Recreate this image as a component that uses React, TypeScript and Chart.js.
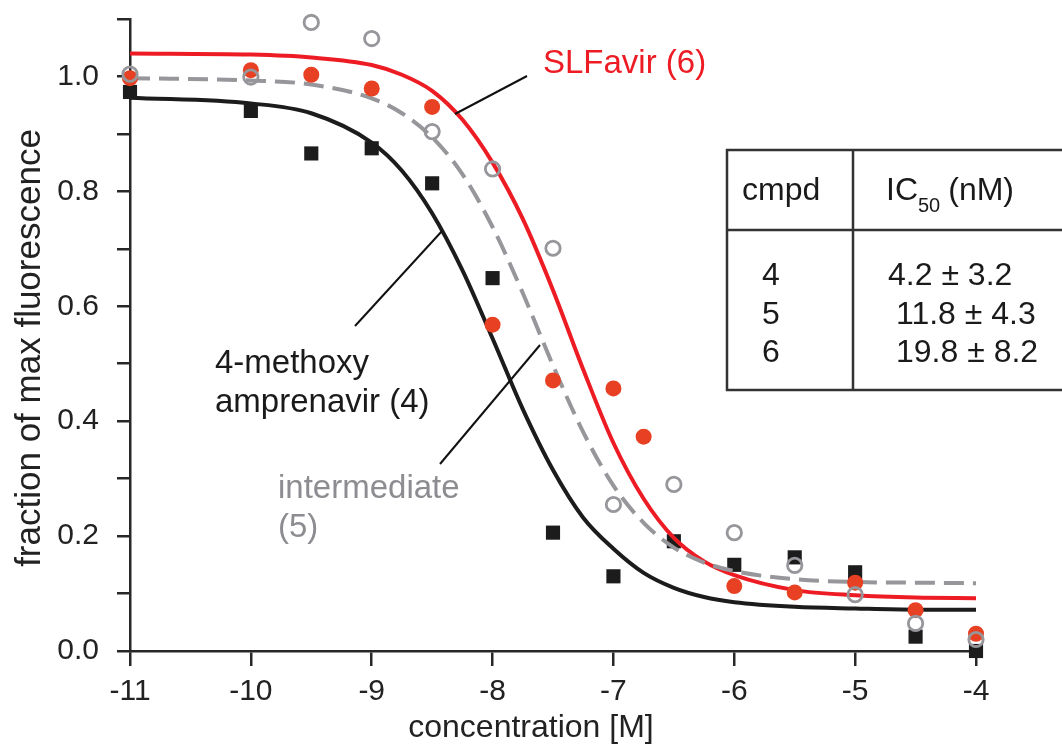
import React, { useEffect, useRef } from 'react';
import { Chart, registerables } from 'chart.js';

Chart.register(...registerables);

// ---- data ----
const CONC = [-11, -10, -9.5, -9, -8.5, -8, -7.5, -7, -6.5, -6, -5.5, -5, -4.5, -4];
const CONC_6 = [-11, -10, -9.5, -9, -8.5, -8, -7.5, -7, -6.75, -6, -5.5, -5, -4.5, -4];
const CMPD_4 = [0.973, 0.94, 0.866, 0.875, 0.814, 0.649, 0.206, 0.13, 0.191, 0.15, 0.163, 0.137, 0.025, 0.0];
const CMPD_5 = [1.004, 0.999, 1.094, 1.066, 0.904, 0.839, 0.701, 0.255, 0.29, 0.206, 0.149, 0.098, 0.048, 0.02];
const CMPD_6 = [0.997, 1.011, 1.003, 0.979, 0.947, 0.568, 0.471, 0.457, 0.373, 0.113, 0.102, 0.119, 0.071, 0.03];

const FIT_X = [-11, -10, -9.5, -9, -8.75, -8.5, -8.25, -8, -7.75, -7.5, -7.25, -7, -6.75, -6.5, -6.25, -6, -5.5, -5, -4.5, -4];
const FIT_4 = [0.963, 0.953, 0.936, 0.885, 0.836, 0.762, 0.663, 0.544, 0.421, 0.315, 0.232, 0.178, 0.136, 0.11, 0.094, 0.085, 0.077, 0.074, 0.072, 0.072];
const FIT_5 = [0.997, 0.993, 0.986, 0.962, 0.936, 0.894, 0.83, 0.738, 0.623, 0.497, 0.381, 0.288, 0.223, 0.18, 0.154, 0.139, 0.125, 0.12, 0.119, 0.118];
const FIT_6 = [1.04, 1.038, 1.033, 1.02, 1.003, 0.975, 0.925, 0.85, 0.752, 0.628, 0.49, 0.362, 0.265, 0.197, 0.156, 0.132, 0.106, 0.097, 0.093, 0.092];

const X_MIN = -11;
const X_MAX = -4;
const Y_MIN = 0;
const Y_MAX = 1.1;

const X_TITLE = 'concentration [M]';
const Y_TITLE = 'fraction of max fluorescence';
const LABEL_6 = 'SLFavir (6)';
const LABEL_4 = ['4-methoxy', 'amprenavir (4)'];
const LABEL_5 = ['intermediate', '(5)'];
const TABLE_CMPD = ['4', '5', '6'];
const TABLE_IC50 = ['4.2 ± 3.2', '11.8 ± 4.3', '19.8 ± 8.2'];

const FONT = "'Liberation Sans', Arial, Helvetica, sans-serif";
const RED_LINE = 'rgb(237,28,36)';
const RED_DOT = 'rgb(232,64,34)';
const GREY = 'rgb(150,150,155)';
const BLACK = 'rgb(28,28,28)';
const AXIS = 'rgb(40,40,40)';

const pts = (xs: number[], ys: number[]) => xs.map((x, i) => ({ x, y: ys[i] }));

const annotations = {
  id: 'annotations',
  afterDraw(chart: any) {
    const ctx: CanvasRenderingContext2D = chart.ctx;
    ctx.save();
    // axis titles
    ctx.fillStyle = '#222';
    ctx.font = `32px ${FONT}`;
    ctx.textAlign = 'center';
    ctx.textBaseline = 'alphabetic';
    ctx.fillText(X_TITLE, 531, 737);
    ctx.save();
    ctx.translate(40, 348);
    ctx.rotate(-Math.PI / 2);
    ctx.font = `35px ${FONT}`;
    ctx.fillText(Y_TITLE, 0, 0);
    ctx.restore();

    // connector lines
    ctx.strokeStyle = '#111';
    ctx.lineWidth = 2;
    const seg = (a: number, b: number, c: number, d: number) => {
      ctx.beginPath();
      ctx.moveTo(a, b);
      ctx.lineTo(c, d);
      ctx.stroke();
    };
    seg(455, 114, 527, 76);
    seg(355, 326, 442, 231);
    seg(440, 464, 540, 345);

    // curve labels
    ctx.textAlign = 'left';
    ctx.font = `33px ${FONT}`;
    ctx.fillStyle = RED_LINE;
    ctx.fillText(LABEL_6, 543, 73);
    ctx.fillStyle = '#1a1a1a';
    ctx.fillText(LABEL_4[0], 215, 373);
    ctx.fillText(LABEL_4[1], 215, 412);
    ctx.fillStyle = 'rgb(140,140,145)';
    ctx.fillText(LABEL_5[0], 278, 498);
    ctx.fillText(LABEL_5[1], 278, 537);

    // table
    ctx.strokeStyle = '#333';
    ctx.lineWidth = 2.5;
    ctx.strokeRect(727, 150, 400, 240);
    seg(853, 150, 853, 390);
    seg(727, 230, 1100, 230);
    ctx.fillStyle = '#1a1a1a';
    ctx.font = `32px ${FONT}`;
    ctx.fillText('cmpd', 742, 200);
    ctx.fillText('IC', 886, 200);
    const icw = ctx.measureText('IC').width;
    ctx.font = `20px ${FONT}`;
    ctx.fillText('50', 886 + icw, 212);
    const sw = ctx.measureText('50').width;
    ctx.font = `32px ${FONT}`;
    ctx.fillText('(nM)', 886 + icw + sw + 8, 200);
    const rowY = [285, 324, 362];
    const valX = [888, 896, 896];
    TABLE_CMPD.forEach((c, i) => {
      ctx.fillText(c, 762, rowY[i]);
      ctx.fillText(TABLE_IC50[i], valX[i], rowY[i]);
    });
    ctx.restore();
  },
};

export default function App() {
  const ref = useRef<HTMLCanvasElement>(null);
  useEffect(() => {
    Chart.defaults.font.family = FONT;
    const chart = new Chart(ref.current as HTMLCanvasElement, {
      type: 'scatter',
      data: {
        datasets: [
          {
            label: 'fit 4',
            data: pts(FIT_X, FIT_4),
            showLine: true,
            borderColor: BLACK,
            borderWidth: 4,
            pointRadius: 0,
            cubicInterpolationMode: 'monotone',
            order: 3,
            clip: false,
          } as any,
          {
            label: 'fit 5',
            data: pts(FIT_X, FIT_5),
            showLine: true,
            borderColor: GREY,
            borderWidth: 4,
            borderDash: [20, 9],
            pointRadius: 0,
            cubicInterpolationMode: 'monotone',
            order: 3,
            clip: false,
          },
          {
            label: 'fit 6',
            data: pts(FIT_X, FIT_6),
            showLine: true,
            borderColor: RED_LINE,
            borderWidth: 4,
            pointRadius: 0,
            cubicInterpolationMode: 'monotone',
            order: 3,
            clip: false,
          },
          {
            label: '4',
            data: pts(CONC, CMPD_4),
            pointStyle: 'rect',
            pointRadius: 10,
            backgroundColor: BLACK,
            borderColor: BLACK,
            borderWidth: 0,
            order: 4,
            clip: false,
          },
          {
            label: '6',
            data: pts(CONC_6, CMPD_6),
            pointStyle: 'circle',
            pointRadius: 8,
            backgroundColor: RED_DOT,
            borderColor: RED_DOT,
            borderWidth: 0,
            order: 2,
            clip: false,
          },
          {
            label: '5',
            data: pts(CONC, CMPD_5),
            pointStyle: 'circle',
            pointRadius: 7.2,
            backgroundColor: 'rgba(0,0,0,0)',
            borderColor: GREY,
            borderWidth: 2.8,
            order: 1,
            clip: false,
          },
        ],
      },
      options: {
        responsive: false,
        animation: false,
        events: [],
        layout: { padding: { left: 0, right: 86, top: 19, bottom: 0 } },
        plugins: { legend: { display: false }, tooltip: { enabled: false } },
        scales: {
          x: {
            type: 'linear',
            min: X_MIN,
            max: X_MAX,
            afterFit: (s: any) => {
              s.height = 93;
              s.paddingLeft = 0;
              s.paddingRight = 0;
            },
            ticks: {
              stepSize: 1,
              autoSkip: false,
              maxRotation: 0,
              padding: 8,
              color: '#222',
              font: { size: 30, family: FONT },
              callback: (v: any) => String(v),
            },
            grid: { display: true, drawOnChartArea: false, drawTicks: true, tickLength: 15, color: AXIS, lineWidth: 2.5 },
            border: { display: true, color: AXIS, width: 2.5 },
          },
          y: {
            type: 'linear',
            min: Y_MIN,
            max: Y_MAX,
            afterFit: (s: any) => {
              s.width = 130;
              s.paddingTop = 0;
              s.paddingBottom = 0;
            },
            ticks: {
              stepSize: 0.1,
              autoSkip: false,
              padding: 18,
              color: '#222',
              font: { size: 30, family: FONT },
              callback: (v: any) => {
                const r = Math.round(Number(v) * 10);
                return r % 2 === 0 && r <= 10 ? (r / 10).toFixed(1) : '';
              },
            },
            grid: { display: true, drawOnChartArea: false, drawTicks: true, tickLength: 13, color: AXIS, lineWidth: 2.5 },
            border: { display: true, color: AXIS, width: 2.5 },
          },
        },
      },
      plugins: [annotations],
    } as any);
    return () => chart.destroy();
  }, []);
  return (
    <div style={{ position: 'absolute', left: 0, top: 0, width: 1062, height: 744, background: '#fff' }}>
      <canvas ref={ref} width={1062} height={744} style={{ display: 'block', width: 1062, height: 744 }} />
    </div>
  );
}
